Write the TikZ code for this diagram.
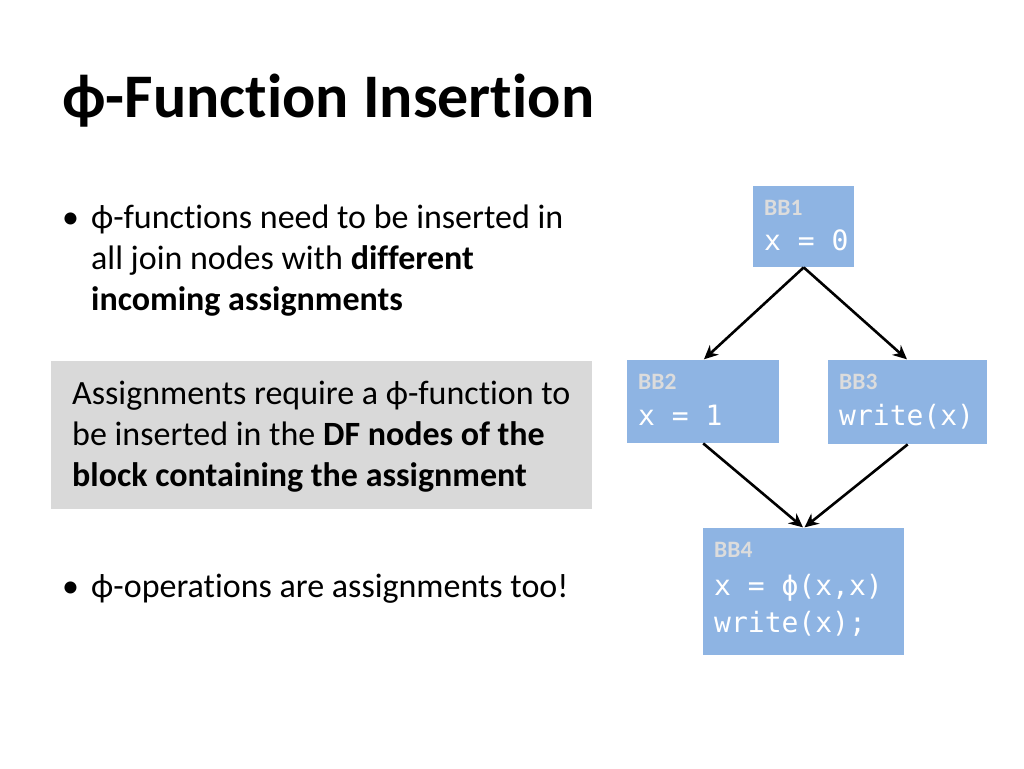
\documentclass[tikz,border=0pt]{standalone}
\usepackage{fontspec}
\setmainfont{Carlito}[Ligatures=NoCommon]
\newfontfamily\codefont{DejaVu Sans Mono}
\usetikzlibrary{arrows.meta,positioning}

\definecolor{bbblue}{HTML}{8EB4E3}
\definecolor{notegray}{HTML}{D9D9D9}
\definecolor{lblgray}{HTML}{DCDCDC}

\begin{document}
\begin{tikzpicture}[x=1pt, y=-1pt,
    bbox/.style={fill=bbblue, inner sep=0pt, anchor=north west},
    bblabel/.style={font=\fontsize{23.5}{28}\selectfont\bfseries, text=lblgray, anchor=base west, inner sep=0pt},
    code/.style={font=\codefont\fontsize{28}{37}\selectfont, text=white, anchor=base west, inner sep=0pt, align=left},
    bodytext/.style={font=\fontsize{34}{41}\selectfont, anchor=base west, inner sep=0pt, align=left},
    flow/.style={-{Stealth[length=14pt,width=13pt]}, line width=2.6pt, shorten >=1pt}]
    \useasboundingbox (0,0) rectangle (1024,768);

    % Title
    \node[anchor=base west, inner sep=0pt, font=\fontsize{62}{74}\selectfont\bfseries] (title) at (62,117) {ϕ-Function Insertion};

    % Bullets and note (multi-line nodes sit on their last baseline)
    \node[bodytext] (dot1) at (62,228) {•};
    \node[bodytext] (item1) at (91,310) {ϕ-functions need to be inserted in\\all join nodes with \textbf{different}\\\textbf{incoming assignments}};

    \node[fill=notegray, minimum width=541, minimum height=148, anchor=north west, inner sep=0pt] (note) at (51,361) {};
    \node[bodytext] (notetext) at (72,486) {Assignments require a ϕ-function to\\be inserted in the \textbf{DF nodes of the}\\\textbf{block containing the assignment}};

    \node[bodytext] (dot2) at (62,597) {•};
    \node[bodytext] (item2) at (91,597) {ϕ-operations are assignments too!};

    % Basic blocks
    \node[bbox, minimum width=101, minimum height=81] (bb1) at (753,186) {};
    \node[bbox, minimum width=152, minimum height=83] (bb2) at (627,360) {};
    \node[bbox, minimum width=159, minimum height=84] (bb3) at (828,360) {};
    \node[bbox, minimum width=201, minimum height=127] (bb4) at (703,528) {};

    \node[bblabel] (bb1lbl) at ([shift={(11,29)}]bb1.north west) {BB1};
    \node[code] (bb1code) at ([shift={(11,64)}]bb1.north west) {x = 0};
    \node[bblabel] (bb2lbl) at ([shift={(11,29)}]bb2.north west) {BB2};
    \node[code] (bb2code) at ([shift={(11,65)}]bb2.north west) {x = 1};
    \node[bblabel] (bb3lbl) at ([shift={(11,29)}]bb3.north west) {BB3};
    \node[code] (bb3code) at ([shift={(11,65)}]bb3.north west) {write(x)};
    \node[bblabel] (bb4lbl) at ([shift={(11,29)}]bb4.north west) {BB4};
    \node[code] (bb4code) at ([shift={(11,104)}]bb4.north west) {x = ϕ(x,x)\\write(x);};

    % Edges
    \draw[flow] (bb1.south) -- (bb2.north);
    \draw[flow] (bb1.south) -- (bb3.north);
    \draw[flow] (bb2.south) -- (bb4.north);
    \draw[flow] (bb3.south) -- (bb4.north);
\end{tikzpicture}
\end{document}
